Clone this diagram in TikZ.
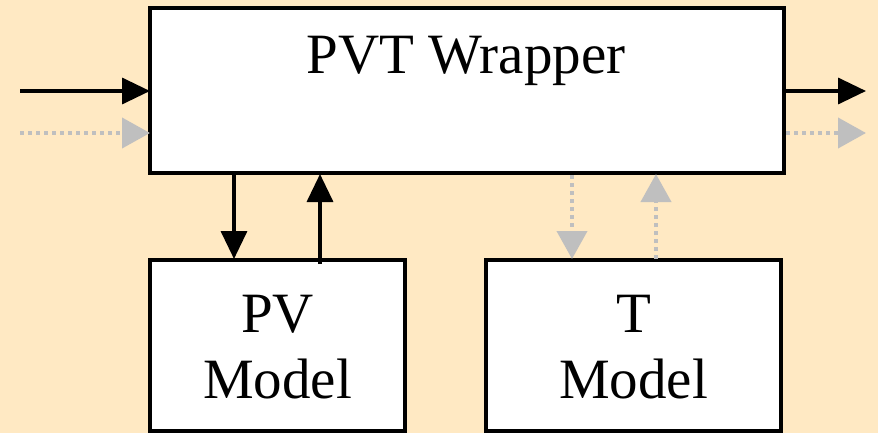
\documentclass[tikz,border=0pt]{standalone}
\usepackage{fontspec}
\setmainfont{Liberation Serif}
\usetikzlibrary{arrows.meta}
\definecolor{bgcol}{HTML}{FFE9C3}
\definecolor{sigray}{HTML}{BFBFBF}
\tikzset{
  block/.style={draw=black, fill=white, line width=3.5pt},
  blk/.style={line width=3.5pt, -{Triangle[length=28pt,width=26pt]}},
  gry/.style={draw=sigray, line width=4pt, dash pattern=on 4pt off 4pt,
              -{Triangle[length=28pt,width=30pt,fill=sigray]}},
  lbl/.style={font=\fontsize{57}{66}\selectfont, align=center}
}
\begin{document}
\begin{tikzpicture}[x=1pt,y=-1pt]
  \fill[bgcol] (0,0) rectangle (878,433);
  \useasboundingbox (0,0) rectangle (878,433);
  % blocks
  \draw[block] (150,8) rectangle (784,173);
  \draw[block] (150,260) rectangle (405,431);
  \draw[block] (486,260) rectangle (781,431);
  \node[lbl] (wraptext) at (466,61) {PVT Wrapper};
  \node[lbl] (pvtext) at (277.5,347) {PV\\Model};
  \node[lbl] (ttext) at (633.5,347) {T\\Model};
  % external in/out
  \coordinate (inA) at (20,91);   \coordinate (inAe) at (150,91);
  \coordinate (inB) at (20,133);  \coordinate (inBe) at (150,133);
  \coordinate (outA) at (784,91); \coordinate (outAe) at (866,91);
  \coordinate (outB) at (786,133); \coordinate (outBe) at (866,133);
  \draw[blk] (inA) -- (inAe);
  \draw[gry] (inB) -- (inBe);
  \draw[blk] (outA) -- (outAe);
  \draw[gry] (outB) -- (outBe);
  % PV model links
  \coordinate (pvd1) at (234,174); \coordinate (pvd2) at (234,259);
  \coordinate (pvu1) at (320,264); \coordinate (pvu2) at (320,174);
  \draw[blk] (pvd1) -- (pvd2);
  \draw[blk] (pvu1) -- (pvu2);
  % T model links
  \coordinate (td1) at (572,175); \coordinate (td2) at (572,259);
  \coordinate (tu1) at (656,259); \coordinate (tu2) at (656,174);
  \draw[gry] (td1) -- (td2);
  \draw[gry] (tu1) -- (tu2);
\end{tikzpicture}
\end{document}
